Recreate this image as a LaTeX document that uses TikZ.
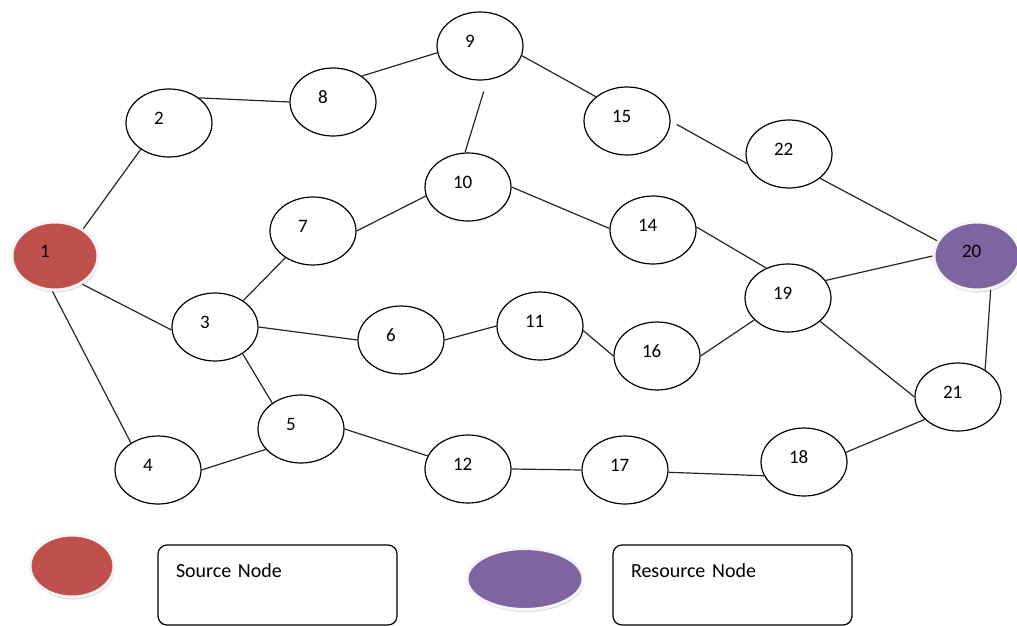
\documentclass[tikz,border=0pt]{standalone}
\usepackage{fontspec}
\setmainfont{Carlito}
\usetikzlibrary{shapes.geometric,shadows}
\definecolor{srcred}{HTML}{C0504D}
\definecolor{respurple}{HTML}{8064A2}
\definecolor{edgegray}{HTML}{262626}
\tikzset{
  vtx/.style={ellipse,draw=black,line width=1.2pt,fill=white,
    minimum width=86pt,minimum height=68pt,inner sep=0pt,
    text width=30pt,align=left,
    text depth=9pt,font=\fontsize{19}{22}\selectfont},
  special/.style={vtx,draw=white!92!gray,line width=3pt,
    drop shadow={shadow xshift=1pt,shadow yshift=-2.5pt,fill=gray!55}},
  lnk/.style={draw=edgegray,line width=1.2pt},
  lgd/.style={rectangle,rounded corners=9pt,draw=black,line width=1.2pt,
    text width=203pt,align=left,inner xsep=18pt,inner ysep=10pt,
    text height=22pt,text depth=38pt,font=\fontsize{20}{24}\selectfont},
}
\begin{document}
\begin{tikzpicture}[x=1pt,y=-1pt]
\useasboundingbox (0,0) rectangle (1017,626);

% source / resource
\node[special,fill=srcred] (n1) at (55,256) {1};
\node[special,fill=respurple] (n20) at (977,256) {20};

% upper part
\node[vtx] (n2) at (169,123) {2};
\node[vtx] (n8) at (333,102) {8};
\node[vtx] (n9) at (480,46) {9};
\node[vtx] (n15) at (627,121) {15};
\node[vtx] (n22) at (789,154) {22};
\node[vtx] (n10) at (468,187) {10};
\node[vtx] (n7) at (313,231) {7};
\node[vtx] (n14) at (653,230) {14};

% middle
\node[vtx] (n3) at (215,327) {3};
\node[vtx] (n6) at (401,340) {6};
\node[vtx] (n11) at (540,326) {11};
\node[vtx] (n16) at (657,356) {16};
\node[vtx] (n19) at (788,298) {19};
\node[vtx] (n21) at (958,397) {21};

% lower part
\node[vtx] (n4) at (158,470) {4};
\node[vtx] (n5) at (301,429) {5};
\node[vtx] (n12) at (468,469) {12};
\node[vtx] (n17) at (625,470) {17};
\node[vtx] (n18) at (804,462) {18};

% links
\draw[lnk] (n1.44) -- (n2.223);
\draw[lnk] (n1.-46) -- (n3.184);
\draw[lnk] (n1.-94) -- (n4.135);
\draw[lnk] (n2.40) -- (n8.180);
\draw[lnk] (n8.42) -- (n9.189);
\draw[lnk] (n9.-13) -- (n15.142);
\draw[lnk,shorten <=12pt] (n9.-78) -- (n10.95);
\draw[lnk,shorten <=7pt] (n15.0) -- (n22.193);
\draw[lnk] (n22.-38) -- (n20.159);
\draw[lnk] (n7.0) -- (n10.192);
\draw[lnk] (n10.0) -- (n14.178);
\draw[lnk] (n14.4) -- (n19.126);
\draw[lnk] (n19.25) -- (n20.180);
\draw[lnk] (n20.-68) -- (n21.45);
\draw[lnk] (n19.-36) -- (n21.180);
\draw[lnk] (n3.43) -- (n7.224);
\draw[lnk] (n3.0) -- (n6.180);
\draw[lnk] (n3.-44) -- (n5.138);
\draw[lnk] (n6.0) -- (n11.180);
\draw[lnk] (n11.-6) -- (n16.180);
\draw[lnk] (n16.0) -- (n19.213);
\draw[lnk] (n4.0) -- (n5.210);
\draw[lnk] (n5.0) -- (n12.162);
\draw[lnk] (n12.0) -- (n17.180);
\draw[lnk] (n17.-3) -- (n18.199);
\draw[lnk] (n18.13) -- (n21.214);

% legend
\node[special,fill=srcred,minimum width=84pt,minimum height=62pt] (keysrc) at (72,566) {};
\node[lgd] (keysrctxt) at (277.5,585) {Source Node};
\node[special,fill=respurple,minimum width=116pt,minimum height=61pt] (keyres) at (525,579) {};
\node[lgd] (keyrestxt) at (732.5,585) {Resource Node};
\end{tikzpicture}
\end{document}
